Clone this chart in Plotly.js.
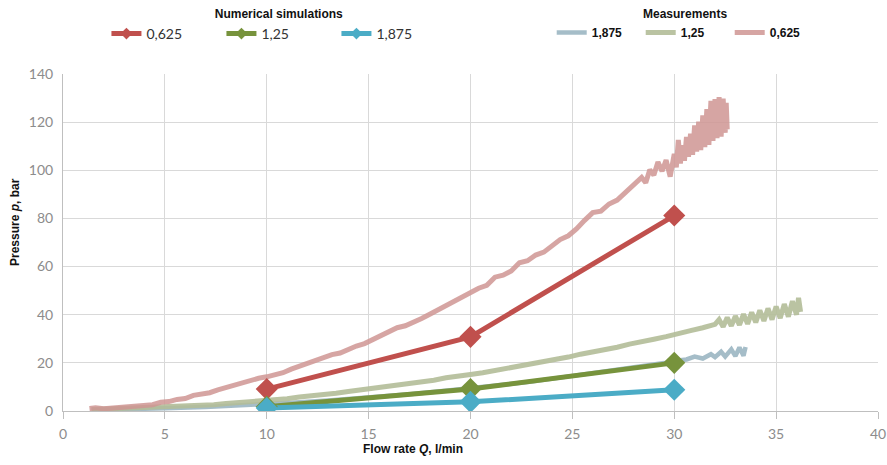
<!DOCTYPE html>
<html>
<head>
<meta charset="utf-8">
<script src="https://cdn.plot.ly/plotly-3.0.1.min.js"></script>
<style>html,body{margin:0;padding:0;background:#fff}#chart{width:887px;height:465px}</style>
</head>
<body>
<div id="chart"></div>
<script>
// Numerical simulations
const simQ = [10, 20, 30];
const simP0625 = [9.1, 30.8, 81.2];
const simP125 = [1.8, 9.1, 20.0];
const simP1875 = [1.2, 3.8, 8.8];

// Measurements, 0,625
const measQ0625 = [1.3,1.6,2.0,2.4,2.8,3.2,3.6,4.0,4.4,4.8,5.2,5.6,6.0,6.4,6.8,7.2,7.6,8.0,8.4,8.8,9.2,9.6,10.0,10.4,10.8,11.2,11.6,12.0,12.4,12.8,13.2,13.6,14.0,14.4,14.8,15.2,15.6,16.0,16.4,16.8,17.2,17.6,18.0,18.4,18.8,19.2,19.6,20.0,20.4,20.8,21.2,21.6,22.0,22.4,22.8,23.2,23.6,24.0,24.4,24.8,25.2,25.6,26.0,26.4,26.8,27.2,27.6,28.0,28.4,28.6,28.8,29.0,29.2,29.4,29.6,29.8,30.0,30.1,30.2,30.3,30.4,30.5,30.6,30.7,30.8,30.9,31.0,31.1,31.2,31.3,31.4,31.5,31.6,31.7,31.8,31.9,32.0,32.1,32.2,32.3,32.4,32.5,32.55,32.6];
const measP0625 = [1.0,1.3,0.9,1.2,1.0,1.5,1.8,2.3,2.6,3.6,3.9,4.8,5.2,6.5,7.0,7.6,8.8,9.8,10.4,11.6,12.3,13.6,14.2,14.8,15.9,17.4,18.6,19.8,21.3,22.6,23.4,24.1,25.8,27.0,28.0,29.6,31.2,32.8,34.6,35.4,36.8,38.4,40.2,42.0,43.6,45.8,47.6,49.2,51.0,52.2,55.6,56.4,58.2,61.6,62.4,64.8,66.0,68.6,71.2,72.8,75.6,79.2,82.4,83.0,86.0,87.6,90.8,94.2,97.0,94.8,100.2,98.0,103.4,99.6,104.2,97.4,106.8,101.2,112.6,102.8,110.4,104.0,113.8,105.6,115.2,106.4,118.6,107.8,120.2,108.4,122.8,109.6,125.4,110.6,128.8,112.2,129.6,113.4,130.4,114.0,129.8,115.6,128.0,117.0];

// Measurements, 1,25
const measQ125 = [1.4,2.0,2.6,3.2,3.8,4.4,5.0,5.6,6.2,6.8,7.4,8.0,8.6,9.2,9.8,10.4,11.0,11.6,12.2,12.8,13.4,14.0,14.6,15.2,15.8,16.4,17.0,17.6,18.2,18.8,19.4,20.0,20.6,21.2,21.8,22.4,23.0,23.6,24.2,24.8,25.4,26.0,26.6,27.2,27.8,28.4,29.0,29.6,30.2,30.8,31.4,32.0,32.2,32.4,32.6,32.8,33.0,33.2,33.4,33.6,33.8,34.0,34.2,34.4,34.6,34.8,35.0,35.2,35.4,35.6,35.8,36.0,36.1,36.2];
const measP125 = [0.6,0.8,0.7,1.1,1.0,1.4,1.5,1.9,2.0,2.4,2.6,3.1,3.4,3.9,4.3,4.8,5.1,5.8,6.2,6.9,7.4,8.1,8.7,9.4,9.9,10.8,11.3,12.2,12.8,13.8,14.3,15.2,15.9,16.8,17.4,18.3,19.4,20.2,21.3,22.4,23.6,24.4,25.6,26.5,27.8,28.6,29.8,30.9,32.4,33.4,34.6,36.0,38.0,35.0,38.8,35.4,39.4,35.8,40.2,36.2,41.0,36.8,41.8,37.4,42.6,38.0,43.4,38.6,44.4,39.2,45.6,40.0,47.0,41.2];

// Measurements, 1,875
const measQ1875 = [1.4,3.0,5.0,7.0,9.0,11.0,13.0,15.0,17.0,19.0,21.0,23.0,25.0,27.0,28.5,29.5,30.2,30.6,31.0,31.4,31.8,32.0,32.3,32.5,32.8,33.0,33.2,33.4,33.5];
const measP1875 = [0.5,0.7,1.1,1.7,2.4,3.3,4.4,5.6,7.0,8.6,10.3,12.2,14.6,16.8,18.6,19.9,21.0,21.4,22.6,21.8,23.6,22.4,24.6,22.6,25.6,22.8,26.4,23.0,26.6];

const tickVals = [0,5,10,15,20,25,30,35,40];
const tickTextX = ['0','5','10','15','20','25','30','35','40'];

const tickFont = {family: 'Lato, "Open Sans", sans-serif', size: 14, color: '#8c8c8c'};
const simColors = ['#c0504d', '#77933c', '#4bacc6'];
const simNames = ['0,625', '1,25', '1,875'];
const simSeries = [simP0625, simP125, simP1875];

const traces = [
  {x: measQ1875, y: measP1875, name: '1,875', legend: 'legend2', mode: 'lines',
   line: {color: '#9bb6c2', width: 4.5}, opacity: 0.9},
  {x: measQ125, y: measP125, name: '1,25', legend: 'legend2', mode: 'lines',
   line: {color: '#b3bd98', width: 5}, opacity: 0.9},
  {x: measQ0625, y: measP0625, name: '0,625', legend: 'legend2', mode: 'lines',
   line: {color: '#cf9593', width: 5}, opacity: 0.85}
];
simSeries.forEach((ys, i) => {
  traces.push({x: simQ, y: ys, name: simNames[i], legend: 'legend', mode: 'lines+markers',
    line: {color: simColors[i], width: 5}, marker: {symbol: 'diamond', size: 9, color: simColors[i]}});
});
simSeries.forEach((ys, i) => {
  traces.push({x: simQ, y: ys, name: simNames[i], showlegend: false, mode: 'markers',
    marker: {symbol: 'diamond', size: 17, color: simColors[i]}});
});

const layout = {
  width: 887, height: 465,
  margin: {l: 63, r: 9, t: 74, b: 54},
  paper_bgcolor: '#fff', plot_bgcolor: '#fff',
  showlegend: true,
  xaxis: {
    range: [0, 40], tickvals: tickVals, ticktext: tickTextX,
    showgrid: true, gridcolor: '#d9d9d9', gridwidth: 1,
    zeroline: false, showline: true, linecolor: '#bfbfbf', linewidth: 1,
    ticks: 'outside', ticklen: 7, tickcolor: '#bfbfbf',
    tickfont: tickFont, ticklabelstandoff: 3, fixedrange: true
  },
  yaxis: {
    range: [0, 140], dtick: 20,
    showgrid: true, gridcolor: '#d9d9d9', gridwidth: 1,
    zeroline: false, showline: true, linecolor: '#bfbfbf', linewidth: 1,
    ticks: '', tickfont: tickFont, ticklabelstandoff: 6, fixedrange: true
  },
  legend: {
    orientation: 'h', xref: 'container', yref: 'container',
    x: 0.12, y: 0.995, xanchor: 'left', yanchor: 'top',
    font: {family: 'Lato, "Open Sans", sans-serif', size: 14, color: '#333'},
    title: {text: '<b>Numerical simulations</b>', side: 'top center',
            font: {family: '"Liberation Sans", Arial, sans-serif', size: 12, color: '#111'}},
    entrywidth: 70, entrywidthmode: 'pixels', traceorder: 'normal',
    bgcolor: 'rgba(0,0,0,0)'
  },
  legend2: {
    orientation: 'h', xref: 'container', yref: 'container',
    x: 0.622, y: 0.995, xanchor: 'left', yanchor: 'top',
    font: {family: '"Liberation Sans", Arial, sans-serif', size: 12, color: '#111', weight: 'bold'},
    title: {text: '<b>Measurements</b>', side: 'top center',
            font: {family: '"Liberation Sans", Arial, sans-serif', size: 12, color: '#111'}},
    entrywidth: 44, entrywidthmode: 'pixels', traceorder: 'normal',
    bgcolor: 'rgba(0,0,0,0)'
  },
  annotations: [
    {text: '<b>Pressure <i>p</i>, bar</b>', xref: 'paper', yref: 'paper',
     x: -0.058, y: 0.56, xanchor: 'center', yanchor: 'middle', textangle: -90, showarrow: false,
     font: {family: '"Liberation Sans", Arial, sans-serif', size: 12, color: '#111'}},
    {text: '<b>Flow rate <i>Q</i>, l/min</b>', xref: 'paper', yref: 'paper',
     x: 0.43, y: -0.085, xanchor: 'center', yanchor: 'top', showarrow: false,
     font: {family: '"Liberation Sans", Arial, sans-serif', size: 12, color: '#111'}}
  ]
};

Plotly.newPlot('chart', traces, layout, {displayModeBar: false, staticPlot: true});
</script>
</body>
</html>
